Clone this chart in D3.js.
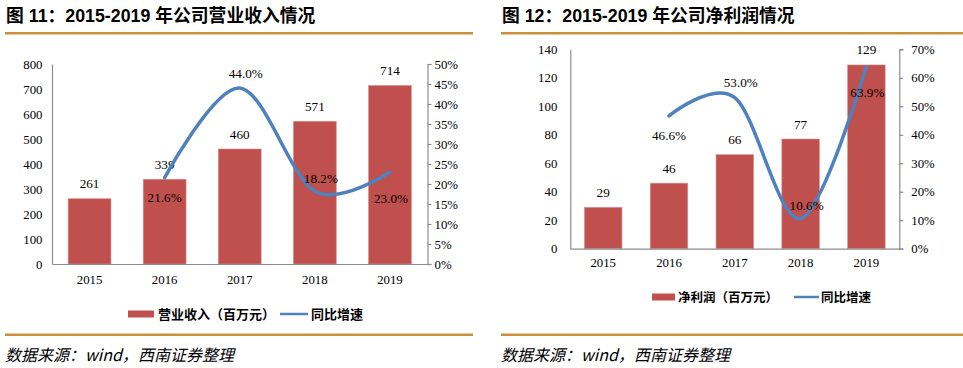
<!DOCTYPE html>
<html>
<head>
<meta charset="utf-8">
<script src="https://cdn.jsdelivr.net/npm/d3@7/dist/d3.min.js"></script>
<style>
  html, body { margin: 0; padding: 0; background: #fff; }
  svg { display: block; }
</style>
</head>
<body>
<svg id="chart" width="963" height="368"></svg>
<script>
// ---------- data ----------
const years = ["2015", "2016", "2017", "2018", "2019"];
const revenue = [261, 339, 460, 571, 714];
const revenueGrowth = [null, 21.6, 44.0, 18.2, 23.0];
const netProfit = [29, 46, 66, 77, 129];
const profitGrowth = [null, 46.6, 53.0, 10.6, 63.9];
const revenueTicks = [0, 100, 200, 300, 400, 500, 600, 700, 800];
const revenuePctTicks = [0, 5, 10, 15, 20, 25, 30, 35, 40, 45, 50];
const profitTicks = [0, 20, 40, 60, 80, 100, 120, 140];
const profitPctTicks = [0, 10, 20, 30, 40, 50, 60, 70];
const titles = ["图 11：2015-2019 年公司营业收入情况", "图 12：2015-2019 年公司净利润情况"];
const barLegend = ["营业收入（百万元）", "净利润（百万元）"];
const lineLegend = "同比增速";
const sourceText = "数据来源：wind，西南证券整理";

// ---------- styles ----------
const BAR = "#C0504D", LINE = "#4F81BD", AXIS = "#8C8C8C", GOLD = "#C8913B";
const SERIF = "'Liberation Serif', 'Times New Roman', serif";
const SANS = "'Liberation Sans', Arial, 'Noto Sans CJK SC', sans-serif";

const svg = d3.select("#chart");

function panel(cfg) {
  const g = svg.append("g");
  // title
  g.append("text").attr("x", cfg.titleX).attr("y", 22)
    .attr("font-family", SANS).attr("font-weight", "bold").attr("font-size", 17.8)
    .attr("fill", "#000").text(cfg.title);
  g.append("rect").attr("x", cfg.ruleX0).attr("y", 32).attr("width", cfg.ruleX1 - cfg.ruleX0).attr("height", 2.5).attr("fill", GOLD);
  g.append("rect").attr("x", cfg.ruleX0).attr("y", 333.5).attr("width", cfg.ruleX1 - cfg.ruleX0).attr("height", 2.5).attr("fill", GOLD);
  g.append("text").attr("x", cfg.ruleX0).attr("y", 361)
    .attr("font-family", "'Noto Sans CJK SC', sans-serif").attr("font-style", "italic").attr("font-size", 16)
    .attr("fill", "#000").text(sourceText);

  const x = d3.scaleBand().domain(years).range([cfg.left, cfg.right]).paddingInner(0.43).paddingOuter(0.215);
  const y = d3.scaleLinear().domain([0, d3.max(cfg.ticks)]).range([cfg.bottom, cfg.top]);
  const y2 = d3.scaleLinear().domain([0, d3.max(cfg.pctTicks)]).range([cfg.bottom, cfg.top]);

  // left axis
  const ay = g.append("g").attr("transform", `translate(${cfg.left},0)`)
    .call(d3.axisLeft(y).tickValues(cfg.ticks).tickSize(0).tickPadding(cfg.leftPad).tickFormat(d3.format("d")));
  ay.select(".domain").attr("stroke", AXIS).attr("stroke-width", 1.2);
  ay.selectAll("text").attr("font-family", SERIF).attr("font-size", 12.8).attr("fill", "#000");

  // right axis
  const ay2 = g.append("g").attr("transform", `translate(${cfg.right},0)`)
    .call(d3.axisRight(y2).tickValues(cfg.pctTicks).tickSize(4).tickPadding(cfg.rightPad).tickFormat(d => d + "%"));
  ay2.select(".domain").attr("stroke", AXIS).attr("stroke-width", 1.2);
  ay2.selectAll("line").attr("stroke", AXIS).attr("stroke-width", 1.2);
  ay2.selectAll("text").attr("font-family", SERIF).attr("font-size", 12.8).attr("fill", "#000").attr("text-anchor", "start");

  // bars
  g.selectAll("rect.bar").data(cfg.bars).join("rect").attr("class", "bar")
    .attr("x", (d, i) => x(years[i])).attr("width", x.bandwidth())
    .attr("y", d => y(d)).attr("height", d => cfg.bottom - y(d))
    .attr("fill", BAR).attr("stroke", "#D98C8A").attr("stroke-width", 0.6);

  // bottom axis
  const ax = g.append("g").attr("transform", `translate(0,${cfg.bottom})`)
    .call(d3.axisBottom(x).tickSize(0).tickPadding(cfg.xPad));
  ax.select(".domain").attr("stroke", AXIS).attr("stroke-width", 1.2);
  ax.selectAll("text").attr("font-family", SERIF).attr("font-size", 12.8).attr("fill", "#000");

  // bar labels
  g.selectAll("text.bl").data(cfg.bars).join("text").attr("class", "bl")
    .attr("x", (d, i) => x(years[i]) + x.bandwidth() / 2).attr("y", d => y(d) - 10.5)
    .attr("text-anchor", "middle").attr("font-family", SERIF).attr("font-size", 13.2).attr("fill", "#000")
    .text(d => d);

  // line
  const pts = cfg.growth.map((v, i) => ({ v, i })).filter(d => d.v !== null);
  const line = d3.line().x(d => x(years[d.i]) + x.bandwidth() / 2).y(d => y2(d.v)).curve(d3.curveCardinal.tension(0));
  g.append("path").datum(pts).attr("d", line).attr("fill", "none").attr("stroke", LINE)
    .attr("stroke-width", 3.5).attr("stroke-linecap", "round");

  const dxs = [0, 6, 6, 1], dys = [24.5, -10.5, -8.5, 30.5];
  g.selectAll("text.ll").data(pts).join("text").attr("class", "ll")
    .attr("x", (d, k) => x(years[d.i]) + x.bandwidth() / 2 + dxs[k])
    .attr("y", (d, k) => y2(d.v) + dys[k])
    .attr("text-anchor", "middle").attr("font-family", SERIF).attr("font-size", 13.2).attr("fill", "#000")
    .text(d => d.v.toFixed(1) + "%");

  // legend
  const L = cfg.legend;
  g.append("rect").attr("x", L.rx).attr("y", L.y - 3.5).attr("width", L.rw).attr("height", 7).attr("fill", BAR);
  g.append("text").attr("x", L.tx).attr("y", L.y + 4.5).attr("font-family", "'Noto Sans CJK SC', sans-serif")
    .attr("font-weight", "bold").attr("font-size", L.fs).attr("fill", "#000").text(cfg.barLegend);
  g.append("line").attr("x1", L.lx).attr("x2", L.lx + L.lw).attr("y1", L.y).attr("y2", L.y)
    .attr("stroke", LINE).attr("stroke-width", 2.5);
  g.append("text").attr("x", L.lt).attr("y", L.y + 4.5).attr("font-family", "'Noto Sans CJK SC', sans-serif")
    .attr("font-weight", "bold").attr("font-size", L.fs).attr("fill", "#000").text(lineLegend);
}

panel({
  title: titles[0], titleX: 6, ruleX0: 5, ruleX1: 473,
  left: 52, right: 427.5, top: 64, bottom: 264,
  ticks: revenueTicks, pctTicks: revenuePctTicks, bars: revenue, growth: revenueGrowth,
  leftPad: 9.5, rightPad: 3, xPad: 11,
  barLegend: barLegend[0],
  legend: { y: 314, rx: 128, rw: 26, tx: 158, lx: 280, lw: 28, lt: 311, fs: 13 }
});
panel({
  title: titles[1], titleX: 502, ruleX0: 501, ruleX1: 963,
  left: 570.3, right: 899.3, top: 49.3, bottom: 248.7,
  ticks: profitTicks, pctTicks: profitPctTicks, bars: netProfit, growth: profitGrowth,
  leftPad: 13, rightPad: 8, xPad: 9.5,
  barLegend: barLegend[1],
  legend: { y: 297, rx: 652, rw: 23, tx: 678, lx: 794, lw: 25, lt: 821, fs: 12.5 }
});
</script>
</body>
</html>
